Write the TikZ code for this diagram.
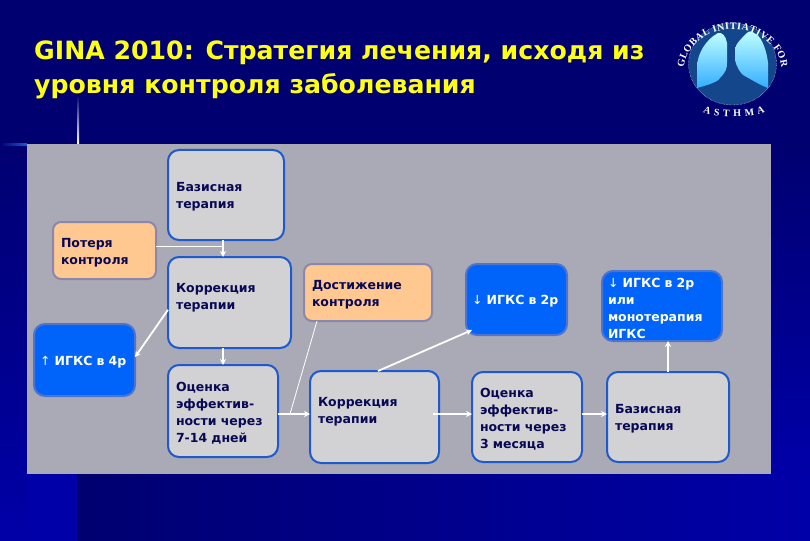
\documentclass[tikz,border=0pt]{standalone}
\usepackage{fontspec}
\setmainfont{DejaVu Sans}
\newfontfamily\logofont{Liberation Serif}
\usetikzlibrary{arrows.meta,calc,decorations.text}

\definecolor{navycolor}{RGB}{0,0,112}
\definecolor{bandcolor}{RGB}{0,0,168}
\definecolor{panelcolor}{RGB}{170,170,182}
\definecolor{graycolor}{RGB}{210,210,212}
\definecolor{rimcolor}{RGB}{30,90,205}
\definecolor{bluecolor}{RGB}{0,100,250}
\definecolor{bluerim}{RGB}{80,115,205}
\definecolor{orangecolor}{RGB}{255,200,145}
\definecolor{orangerim}{RGB}{140,135,170}
\definecolor{inkcolor}{RGB}{8,8,85}
\definecolor{titlecolor}{RGB}{255,255,20}
\definecolor{globecolor}{RGB}{20,70,140}

\tikzset{
	box/.style={anchor=north west,rounded corners=11pt,inner xsep=8pt,inner ysep=0pt,outer sep=0pt,align=left,font=\fontsize{12.5}{17}\selectfont\bfseries,execute at begin node={\rule{0pt}{13.5pt}}},
	graybox/.style={box,draw=rimcolor,fill=graycolor,line width=2pt,text=inkcolor},
	orangebox/.style={box,draw=orangerim,fill=orangecolor,line width=2pt,text=inkcolor,rounded corners=8pt},
	bluebox/.style={box,draw=bluerim,fill=bluecolor,line width=2pt,text=white,inner xsep=6pt},
	flow/.style={draw=white,line width=1.8pt,-{Stealth[length=6pt,width=6pt]}},
	thinline/.style={draw=white,line width=0.8pt},
	lung/.style={top color=white!75!cyan,bottom color=cyan!60!blue!80!white},
}
\newcommand{\thinup}{\textmd{↑}}
\newcommand{\thindown}{\textmd{↓}}

\begin{document}
\begin{tikzpicture}[x=1pt,y=-1pt]
	\useasboundingbox (0,0) rectangle (810,540);

	%%% Fondo
	\fill[navycolor] (0,0) rectangle (810,542);
	\shade[top color=navycolor,bottom color=bandcolor] (0,145) rectangle (27,542);
	\fill[bandcolor] (27,474) rectangle (77,542);
	\shade[left color=navycolor,right color=bandcolor] (77,474) rectangle (810,542);
	\shade[top color=navycolor,bottom color=bandcolor] (771,145) rectangle (810,474);
	\shade[top color=navycolor,middle color=rimcolor,bottom color=white] (77,95) rectangle (79,144);
	\shade[left color=navycolor,right color=rimcolor] (0,144) rectangle (27,146);
	\fill[panelcolor] (27,144) rectangle (771,474);

	%%% Titulo
	\node[anchor=north west,inner sep=0pt,align=left,text=titlecolor,font=\fontsize{25.2}{34}\selectfont\bfseries] (title) at (34,41)
		{GINA 2010: Стратегия лечения, исходя из\\уровня контроля заболевания};

	%%% Logo
	\fill[globecolor,draw=white,densely dotted] (732.5,64) ellipse [x radius=44,y radius=41];
	\shade[lung] (718,33) .. controls (705,40) and (697,55) .. (697,67) -- (697,88) .. controls (708,85) and (718,82) .. (720,78) .. controls (726,72) and (727,68) .. (727,63) -- (727,43) .. controls (726,36) and (722,32) .. (718,33) -- cycle;
	\shade[lung] (748,32) .. controls (742,38) and (735,44) .. (735,50) -- (735,60) .. controls (737,68) and (740,72) .. (743,75) .. controls (752,80) and (760,85) .. (768,88) -- (768,63) .. controls (767,52) and (762,38) .. (757,35) .. controls (753,32) and (750,31) .. (748,32) -- cycle;
	\path[decorate,decoration={text along path,text align={fit to path},text={|\fontsize{10}{10}\logofont\bfseries\color{white}|GLOBAL INITIATIVE FOR}}]
		(683.7,67.7) arc[start angle=185,end angle=355,x radius=49,y radius=42];
	\path[decorate,decoration={text along path,text align={fit to path},text={|\fontsize{10}{10}\logofont\bfseries\color{white}|ASTHMA}}]
		(703,112) .. controls (715,118) and (752,118) .. (765,112);

	%%% Cajas
	\node[graybox,text width=100pt,minimum height=90pt] (bazis) at (168,150) {Базисная\\терапия};
	\node[orangebox,text width=87pt,minimum height=57pt] (loss) at (53,222) {Потеря\\контроля};
	\node[graybox,text width=107pt,minimum height=91pt] (corr) at (168,257) {Коррекция\\терапии\\~};
	\node[bluebox,text width=89pt,minimum height=72pt] (up) at (34,324) {\thinup{} ИГКС в 4р};
	\node[graybox,text width=94pt,minimum height=92pt] (eval) at (168,365) {Оценка\\эффектив-\\ности через\\7-14 дней};
	\node[orangebox,text width=112pt,minimum height=57pt] (reach) at (304,264) {Достижение\\контроля};
	\node[graybox,text width=113pt,minimum height=92pt] (corrtwo) at (310,371) {Коррекция\\терапии\\~};
	\node[bluebox,text width=89pt,minimum height=71pt] (downtwo) at (466,264) {\thindown{} ИГКС в 2р};
	\node[graybox,text width=94pt,minimum height=90pt] (evaltwo) at (472,372) {Оценка\\эффектив-\\ности через\\3 месяца};
	\node[bluebox,text width=108pt,minimum height=70pt] (mono) at (602,271) {\thindown{} ИГКС в 2р\\или\\монотерапия\\ИГКС};
	\node[graybox,text width=106pt,minimum height=90pt] (bazistwo) at (607,372) {Базисная\\терапия};

	%%% Flechas
	\draw[flow] ([xshift=-3pt]bazis.south) -- ([xshift=-6.5pt]corr.north);
	\draw[thinline] (loss.east |- 0,246) -- (223,246);
	\draw[flow] ($(corr.north west)!0.58!(corr.south west)$) -- ($(up.north east)!0.46!(up.south east)$);
	\draw[flow] ([xshift=-6.5pt]corr.south) -- (eval.north);
	\draw[flow] ([yshift=-3pt]eval.east) -- ([yshift=3pt]corrtwo.west);
	\draw[thinline] ([xshift=-51pt]reach.south) -- (290,414);
	\draw[flow] ([xshift=3.5pt]corrtwo.north) -- ([xshift=6pt,yshift=5pt]downtwo.south west);
	\draw[flow] ([xshift=-6pt,yshift=3pt]corrtwo.east) -- ([yshift=3pt]evaltwo.west);
	\draw[flow] ([yshift=3pt]evaltwo.east) -- ([yshift=3pt]bazistwo.west);
	\draw[flow] (bazistwo.north) -- (mono.south -| bazistwo.north);
\end{tikzpicture}
\end{document}
